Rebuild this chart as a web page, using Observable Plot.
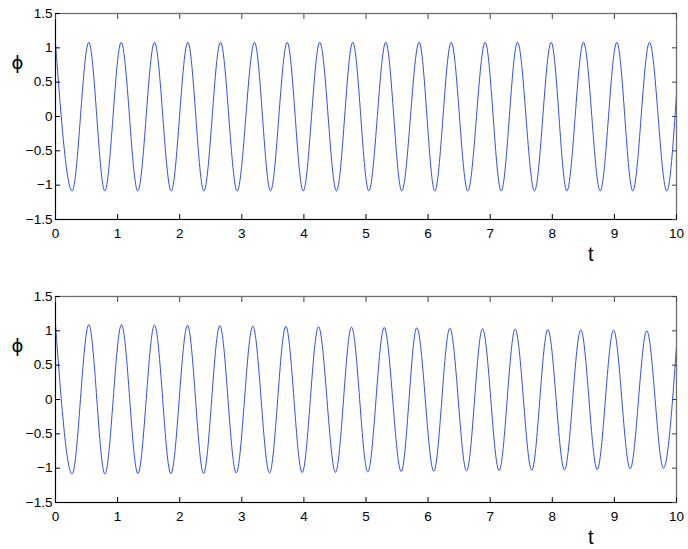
<!DOCTYPE html>
<html>
<head>
<meta charset="utf-8">
<script src="https://cdn.jsdelivr.net/npm/d3@7"></script>
<script src="https://cdn.jsdelivr.net/npm/@observablehq/plot@0.6"></script>
<style>
  html, body { margin: 0; padding: 0; background: white; overflow: hidden; }
  #chart svg { display: block; }
</style>
</head>
<body>
<div id="chart"></div>
<script>
// ---- axis ticks ----
const xTicks = [0, 1, 2, 3, 4, 5, 6, 7, 8, 9, 10];
const yTicks = [-1.5, -1, -0.5, 0, 0.5, 1, 1.5];
const xDomain = [0, 10];
const yDomain = [-1.5, 1.5];
const xLabelText = "t";
const yLabelText = "ϕ";
const xLabelAt = 8.62;   // where the "t" label sits along the t axis
const yLabelAt = 0.78;   // where the "ϕ" label sits along the ϕ axis

// ---- top panel: extrema ----
const topPeakT   = [0, 0.536, 1.058, 1.594, 2.131, 2.657, 3.205, 3.731, 4.256, 4.787, 5.319, 5.856, 6.372, 6.919, 7.44, 7.982, 8.502, 9.039, 9.565];
const topPeakPhi = [1.07, 1.08, 1.08, 1.08, 1.08, 1.08, 1.08, 1.08, 1.08, 1.08, 1.08, 1.08, 1.08, 1.08, 1.08, 1.08, 1.08, 1.08, 1.08];
const topTroughT   = [0.268, 0.794, 1.325, 1.863, 2.389, 2.925, 3.462, 3.989, 4.525, 5.045, 5.576, 6.108, 6.639, 7.177, 7.713, 8.234, 8.771, 9.296, 9.844];
const topTroughPhi = [-1.085, -1.085, -1.085, -1.085, -1.085, -1.085, -1.085, -1.085, -1.085, -1.085, -1.085, -1.085, -1.085, -1.085, -1.085, -1.085, -1.085, -1.085, -1.085];
const topEndT = 10, topEndPhi = 0.33;

// ---- bottom panel: extrema ----
const botPeakT   = [0, 0.536, 1.063, 1.594, 2.126, 2.646, 3.177, 3.709, 4.235, 4.767, 5.293, 5.818, 6.35, 6.876, 7.402, 7.928, 8.459, 8.986, 9.522];
const botPeakPhi = [1.09, 1.09, 1.09, 1.085, 1.08, 1.075, 1.07, 1.065, 1.06, 1.055, 1.05, 1.045, 1.04, 1.03, 1.025, 1.02, 1.015, 1.01, 1.0];
const botTroughT   = [0.268, 0.795, 1.327, 1.858, 2.384, 2.91, 3.446, 3.972, 4.509, 5.029, 5.567, 6.092, 6.62, 7.144, 7.669, 8.196, 8.723, 9.254, 9.79];
const botTroughPhi = [-1.085, -1.085, -1.08, -1.08, -1.075, -1.07, -1.07, -1.065, -1.06, -1.055, -1.05, -1.045, -1.04, -1.035, -1.03, -1.025, -1.02, -1.01, -1.0];
const botEndT = 10, botEndPhi = 0.78;

function series(pT, pV, tT, tV, eT, eV) {
  const rows = [];
  pT.forEach((t, i) => rows.push({t, phi: pV[i]}));
  tT.forEach((t, i) => rows.push({t, phi: tV[i]}));
  rows.push({t: eT, phi: eV});
  rows.sort((a, b) => a.t - b.t);
  return rows;
}

const fmt = d => (d < 0 ? "\u2212" : "") + Math.abs(d);
const noText = () => "";
const lineColor = "#2f4dff";
const TK = 5; // tick length (px), drawn inward

function panel(data, height, marginBottom) {
  return Plot.plot({
    width: 688,
    height,
    marginLeft: 55,
    marginRight: 12,
    marginTop: 13,
    marginBottom,
    x: {domain: xDomain},
    y: {domain: yDomain},
    style: {fontFamily: "'Liberation Sans', Arial, sans-serif", fontSize: "12px", background: "white", color: "black"},
    marks: [
      Plot.line(data, {x: "t", y: "phi", stroke: lineColor, strokeWidth: 1, curve: "monotone-x"}),
      Plot.frame({stroke: "#707070", strokeWidth: 1.3}),
      Plot.ruleX([xDomain[0]], {stroke: "black"}),
      Plot.ruleY([yDomain[0]], {stroke: "black"}),
      // labels
      Plot.axisX(xTicks, {anchor: "bottom", tickSize: 0, tickPadding: 9, label: null, fontSize: 13.5, tickFormat: fmt}),
      Plot.axisY(yTicks, {anchor: "left", tickSize: 0, tickPadding: 3, label: null, fontSize: 13.5, tickFormat: fmt}),
      // inward ticks on all four sides
      Plot.axisX(xTicks, {anchor: "bottom", tickSize: TK, dy: -TK, tickFormat: noText, label: null, stroke: "black"}),
      Plot.axisX(xTicks, {anchor: "top", tickSize: TK, dy: TK, tickFormat: noText, label: null, stroke: "#444"}),
      Plot.axisY(yTicks, {anchor: "left", tickSize: TK, dx: TK, tickFormat: noText, label: null, stroke: "black"}),
      Plot.axisY(yTicks, {anchor: "right", tickSize: TK, dx: -TK, tickFormat: noText, label: null, stroke: "#444"}),
      // axis titles
      Plot.text([xLabelText], {x: xLabelAt, frameAnchor: "bottom", dy: 41, fontSize: 20, text: d => d}),
      Plot.text([yLabelText], {y: yLabelAt, frameAnchor: "left", dx: -44, fontSize: 18, fontFamily: "DejaVu Sans", text: d => d})
    ]
  });
}

const chart = document.getElementById("chart");
chart.append(panel(series(topPeakT, topPeakPhi, topTroughT, topTroughPhi, topEndT, topEndPhi), 283, 64));
chart.append(panel(series(botPeakT, botPeakPhi, botTroughT, botTroughPhi, botEndT, botEndPhi), 266, 47));
</script>
</body>
</html>
